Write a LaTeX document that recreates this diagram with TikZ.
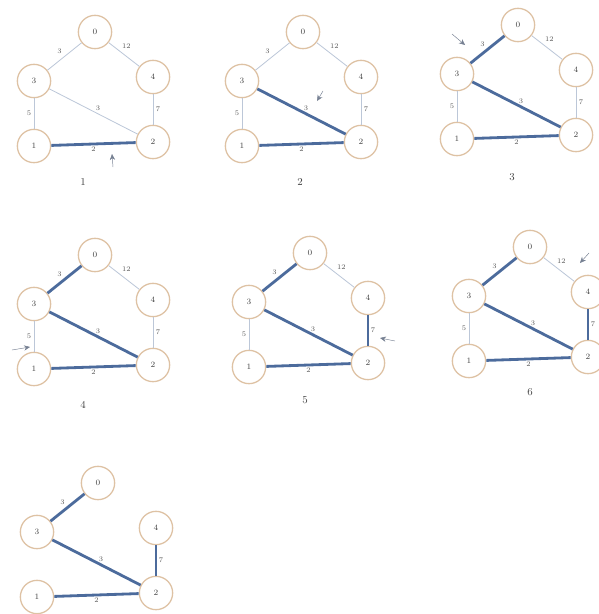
\documentclass[tikz,border=0pt]{standalone}
\usetikzlibrary{arrows.meta}
\definecolor{ring}{HTML}{DEC2A4}
\definecolor{edgelt}{HTML}{BCC7D8}
\definecolor{edgedk}{HTML}{4C6B9C}
\definecolor{ptrc}{HTML}{3C4A64}
\begin{document}
\begin{tikzpicture}[x=0.03cm, y=-0.03cm, font=\scriptsize,
  vx/.style={circle, draw=ring, line width=1.1pt, fill=white, minimum size=1.0cm,
             inner sep=0pt, text=black!75},
  e/.style={draw=edgelt, line width=0.7pt},
  mst/.style={draw=edgedk, line width=2.4pt},
  wt/.style={font=\fontsize{6}{7}\selectfont, text=black!65, inner sep=2pt},
  steplabel/.style={font=\small, text=black!75},
  ptr/.style={-{Stealth[length=1.8mm, width=1.6mm]}, draw=ptrc!70, line width=0.4pt}]
  \useasboundingbox (0,0) rectangle (599,614);
  % ---- the five vertices of every step, placed from the position of vertex 0
  \foreach \p/\ox/\oy in {1/95/32, 2/303/32, 3/518/25, 4/95/255, 5/310/253, 6/530/247, 7/98/483} {
    \begin{scope}[shift={(\ox,\oy)}]
      \node[vx] (g\p-0) at (0,0)     {0};
      \node[vx] (g\p-3) at (-61,49)  {3};
      \node[vx] (g\p-4) at (58,45)   {4};
      \node[vx] (g\p-1) at (-61,114) {1};
      \node[vx] (g\p-2) at (58,110)  {2};
    \end{scope}
  }
  % ---- all edges, thin, with their weights
  \foreach \p in {1,...,6} {
    \draw[e] (g\p-0) -- node[wt, pos=0.35, above right] {12} (g\p-4);
    \draw[e] (g\p-3) -- node[wt, left] {5} (g\p-1);
  }
  \foreach \p in {1,...,7} {
    \draw[e] (g\p-0) -- node[wt, above left] {3} (g\p-3);
    \draw[e] (g\p-3) -- node[wt, above, pos=0.55] {3} (g\p-2);
    \draw[e] (g\p-4) -- node[wt, right] {7} (g\p-2);
    \draw[e] (g\p-1) -- node[wt, below] {2} (g\p-2);
  }
  % ---- edges taken into the tree so far
  \foreach \p in {1,...,7} \draw[mst] (g\p-1) -- (g\p-2);
  \foreach \p in {2,...,7} \draw[mst] (g\p-3) -- (g\p-2);
  \foreach \p in {3,...,7} \draw[mst] (g\p-0) -- (g\p-3);
  \foreach \p in {5,6,7}   \draw[mst] (g\p-4) -- (g\p-2);
  % ---- pointers at the edge looked at in each step
  \coordinate (s1) at (113,167); \coordinate (t1) at (112,154);
  \coordinate (s2) at (323,91);  \coordinate (t2) at (317,101);
  \coordinate (s3) at (452,34);  \coordinate (t3) at (465,45);
  \coordinate (s4) at (12,350);  \coordinate (t4) at (30,347);
  \coordinate (s5) at (395,341); \coordinate (t5) at (380,338);
  \coordinate (s6) at (589,253); \coordinate (t6) at (580,263);
  \foreach \p in {1,...,6} \draw[ptr] (s\p) -- (t\p);
  % ---- step numbers
  \node[steplabel] (c1) at (83,182)  {1};
  \node[steplabel] (c2) at (300,182) {2};
  \node[steplabel] (c3) at (512,177) {3};
  \node[steplabel] (c4) at (83,405)  {4};
  \node[steplabel] (c5) at (305,400) {5};
  \node[steplabel] (c6) at (530,392) {6};
\end{tikzpicture}
\end{document}
